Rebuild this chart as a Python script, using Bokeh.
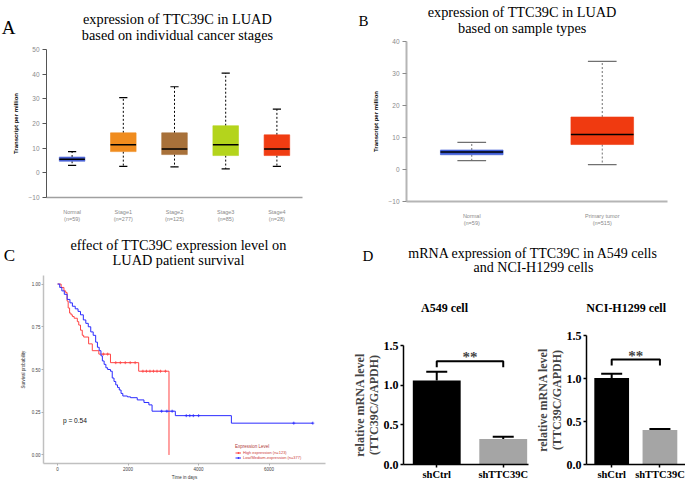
import numpy as np
from bokeh.plotting import figure
from bokeh.layouts import row, column
from bokeh.models import (Label, FixedTicker, Whisker, TeeHead, ColumnDataSource, Legend,
                          LegendItem, Range1d, NumeralTickFormatter)
from bokeh.transform import dodge
from bokeh.embed import file_html
from bokeh.resources import INLINE
from bokeh.core.validation import silence
from bokeh.core.validation.warnings import MISSING_RENDERERS

silence(MISSING_RENDERERS, True)

SERIF = "Liberation Serif"
SANS = "Liberation Sans"

# ---------------- data ----------------
# Panel A: expression by cancer stage (boxplot stats, TPM)
stage_cats = ["Normal", "Stage1", "Stage2", "Stage3", "Stage4"]
stage_n = [59, 277, 125, 85, 28]
stage_min = [3.0, 2.6, 2.4, 1.6, 2.6]
stage_q1 = [4.7, 8.6, 7.4, 7.0, 7.0]
stage_med = [5.5, 11.4, 9.7, 11.4, 9.7]
stage_q3 = [6.4, 16.2, 16.2, 19.1, 15.4]
stage_max = [8.6, 30.5, 34.9, 40.4, 25.8]
stage_colors = ["#4a62d4", "#f08c1e", "#a8713a", "#b4d41c", "#f03c12"]
stageA_ticks = [-10, 0, 10, 20, 30, 40, 50]

# Panel B: expression by sample type
type_cats = ["Normal", "Primary tumor"]
type_n = [59, 515]
type_min = [2.8, 1.5]
type_q1 = [4.6, 7.8]
type_med = [5.5, 10.9]
type_q3 = [6.1, 16.4]
type_max = [8.5, 33.8]
type_colors = ["#3f5dd6", "#f03a10"]
typeB_ticks = [-10, 0, 10, 20, 30, 40]

# Panel C: Kaplan-Meier survival (time in days, survival probability)
high_t = [0, 100, 180, 230, 270, 300, 340, 380, 420, 470, 560, 600, 650, 700, 740, 880, 984, 1170, 1500, 2300, 3160]
high_s = [1.0, 0.98, 0.96, 0.95, 0.90, 0.86, 0.83, 0.82, 0.81, 0.80, 0.78, 0.76, 0.73, 0.70, 0.69, 0.65, 0.61, 0.59, 0.54, 0.49, 0.0]
high_cens_t = [1300, 1420, 1650, 1780, 1920, 2060, 2200, 2420, 2520, 2620, 2720, 2820, 2920, 3060]
high_cens_s = [0.59, 0.59, 0.54, 0.54, 0.54, 0.54, 0.54, 0.49, 0.49, 0.49, 0.49, 0.49, 0.49, 0.49]
low_t = [0, 60, 120, 190, 270, 350, 420, 500, 580, 650, 730, 800, 870, 940, 1010, 1080, 1130, 1180, 1230,
         1270, 1320, 1370, 1420, 1500, 1550, 1600, 1650, 1700, 1750, 1800, 1850, 1980, 2070, 2260, 2450,
         2590, 2680, 3340, 4930, 7240]
low_s = [1.0, 0.98, 0.96, 0.94, 0.91, 0.89, 0.87, 0.855, 0.84, 0.82, 0.79, 0.77, 0.75, 0.72, 0.70, 0.66,
         0.63, 0.61, 0.58, 0.55, 0.53, 0.51, 0.50, 0.49, 0.45, 0.43, 0.41, 0.395, 0.38, 0.36, 0.345, 0.34,
         0.335, 0.322, 0.307, 0.293, 0.256, 0.23, 0.186, 0.186]
low_cens_t = [2950, 3100, 3250, 3650, 3750, 3850, 4000, 6700, 7240]
low_cens_s = [0.256, 0.256, 0.256, 0.23, 0.23, 0.23, 0.23, 0.186, 0.186]
surv_xticks = [0, 2000, 4000, 6000]
surv_yticks = [0.0, 0.25, 0.5, 0.75, 1.0]
p_value = "p = 0.54"

# Panel D: qPCR
d_groups = ["shCtrl", "shTTC39C"]
a549_mean = [1.06, 0.32]
a549_err = [0.11, 0.03]
a549_sig = [1.30, 1.225]
h1299_mean = [1.005, 0.40]
h1299_err = [0.05, 0.013]
h1299_sig = [1.22, 1.15]
bar_colors = ["#000000", "#a5a5a5"]
d_yticks = [0.0, 0.5, 1.0, 1.5]


def clabel(p, x, y, text, size, font=SERIF, style="normal", align="center",
           color="black", baseline="alphabetic"):
    p.add_layout(Label(x=x, y=y, x_units="canvas", y_units="canvas", text=text,
                       text_font=font, text_font_size=f"{size}px", text_font_style=style,
                       text_align=align, text_baseline=baseline, text_color=color))


def header(w, h):
    p = figure(width=w, height=h, x_range=Range1d(0, 1), y_range=Range1d(0, 1),
               x_axis_type=None, y_axis_type=None, output_backend="svg", toolbar_location=None,
               min_border_left=0, min_border_right=0, min_border_top=0, min_border_bottom=0)
    p.outline_line_color = None
    return p


def base_fig(w, h, xr, yr, left, right, top, bottom):
    p = figure(width=w, height=h, x_range=xr, y_range=yr, output_backend="svg",
               toolbar_location=None, min_border_left=left, min_border_right=right,
               min_border_top=top, min_border_bottom=bottom)
    p.outline_line_color = None
    p.grid.visible = False
    p.xaxis.minor_tick_line_color = None
    p.yaxis.minor_tick_line_color = None
    return p


def boxplot(p, cats, ns, mn, q1, med, q3, mx, colors, box_w, cap_w, wcolor, ticks):
    xs = list(range(len(cats)))
    src = ColumnDataSource(dict(x=xs, mn=mn, q1=q1, med=med, q3=q3, mx=mx, color=colors))
    p.segment(x0="x", y0="q3", x1="x", y1="mx", source=src, line_color=wcolor, line_dash="2 2", line_width=1)
    p.segment(x0="x", y0="q1", x1="x", y1="mn", source=src, line_color=wcolor, line_dash="2 2", line_width=1)
    p.segment(x0=dodge("x", -cap_w / 2), y0="mx", x1=dodge("x", cap_w / 2), y1="mx", source=src,
              line_color=wcolor, line_width=1.2)
    p.segment(x0=dodge("x", -cap_w / 2), y0="mn", x1=dodge("x", cap_w / 2), y1="mn", source=src,
              line_color=wcolor, line_width=1.2)
    p.vbar(x="x", width=box_w, bottom="q1", top="q3", source=src, fill_color="color",
           line_color="color", line_width=1, line_alpha=0.6)
    p.segment(x0=dodge("x", -box_w / 2), y0="med", x1=dodge("x", box_w / 2), y1="med", source=src,
              line_color="black", line_width=1.5)
    p.xaxis.ticker = FixedTicker(ticks=xs)
    p.xaxis.major_label_overrides = {i: f"{c}\n(n={n})" for i, (c, n) in enumerate(zip(cats, ns))}
    p.yaxis.ticker = FixedTicker(ticks=ticks)
    p.xaxis.major_tick_line_color = None
    p.xaxis.major_label_text_font = SANS
    p.xaxis.major_label_text_font_size = "5.5px"
    p.xaxis.major_label_text_color = "#8a8a8a"
    p.xaxis.major_label_standoff = 5
    p.yaxis.major_label_text_font = SANS
    p.yaxis.major_label_text_font_size = "6.5px"
    p.yaxis.major_label_text_color = "#8a8a8a"
    p.yaxis.major_tick_out = 4
    p.yaxis.major_tick_in = 0
    p.yaxis.major_label_standoff = 3
    p.yaxis.axis_label = "Transcript per million"
    p.yaxis.axis_label_text_font = SANS
    p.yaxis.axis_label_text_font_style = "bold"
    p.yaxis.axis_label_text_font_size = "6px"
    p.yaxis.axis_label_text_color = "black"
    p.yaxis.axis_label_standoff = 6


# ---------------- Panel A ----------------
hA = header(340, 44)
clabel(hA, 8, 26.7, "A", 19)
clabel(hA, 177, 18, "expression of TTC39C in LUAD", 14.3)
clabel(hA, 177, 34, "based on individual cancer stages", 14.3)

pA = base_fig(340, 184, Range1d(-0.5, 4.5), Range1d(-10, 50), 46, 38, 5, 31)
boxplot(pA, stage_cats, stage_n, stage_min, stage_q1, stage_med, stage_q3, stage_max,
        stage_colors, 0.5, 0.16, "black", stageA_ticks)
pA.yaxis.axis_line_color = "#555555"
pA.yaxis.major_tick_line_color = "#555555"
pA.xaxis.axis_line_color = "#a0a0a0"
pA.xaxis.axis_line_width = 1.5

# ---------------- Panel B ----------------
hB = header(345, 36)
clabel(hB, 23, 20, "B", 15)
clabel(hB, 181.7, 11.5, "expression of TTC39C in LUAD", 14.3)
clabel(hB, 181.7, 27, "based on sample types", 14.3)

pB = base_fig(345, 192, Range1d(-0.5, 1.5), Range1d(-10, 40), 66, 18, 5, 26)
boxplot(pB, type_cats, type_n, type_min, type_q1, type_med, type_q3, type_max,
        type_colors, 0.48, 0.22, "#707070", typeB_ticks)
for ax in (pB.xaxis, pB.yaxis):
    ax.axis_line_color = "#b5b5b5"
    ax.axis_line_width = 2
pB.yaxis.major_tick_line_color = "#8a8a8a"

# ---------------- Panel C ----------------
hC = header(340, 44)
clabel(hC, 9, 27, "C", 17)
clabel(hC, 178, 16, "effect of TTC39C expression level on", 14.3)
clabel(hC, 178, 31, "LUAD patient survival", 14.3)

pC = base_fig(340, 210, Range1d(-400, 7600), Range1d(-0.05, 1.05), 43, 15, 3, 13)
RED = "#ff4545"
BLUE = "#2b2bff"
r_hl = pC.step(high_t, high_s, mode="after", line_color=RED, line_width=1)
r_hc = pC.scatter(high_cens_t, high_cens_s, marker="cross", size=3, line_color=RED, line_width=0.8)
r_ll = pC.step(low_t, low_s, mode="after", line_color=BLUE, line_width=1)
r_lc = pC.scatter(low_cens_t, low_cens_s, marker="cross", size=3, line_color=BLUE, line_width=0.8)
pC.xaxis.ticker = FixedTicker(ticks=surv_xticks)
pC.yaxis.ticker = FixedTicker(ticks=surv_yticks)
pC.yaxis.formatter = NumeralTickFormatter(format="0.00")
for ax in (pC.xaxis, pC.yaxis):
    ax.axis_line_color = "#c0c0c0"
    ax.axis_line_width = 1.5
    ax.major_tick_line_color = "#b0b0b0"
    ax.major_tick_out = 2
    ax.major_tick_in = 0
    ax.major_label_text_font = SANS
    ax.major_label_text_font_size = "4.5px"
    ax.major_label_text_color = "#444444"
    ax.major_label_standoff = 1
    ax.axis_label_text_font = SANS
    ax.axis_label_text_font_style = "normal"
    ax.axis_label_text_font_size = "4.5px"
    ax.axis_label_text_color = "#333333"
    ax.axis_label_standoff = 1
pC.xaxis.axis_label = "Time in days"
pC.yaxis.axis_label = "Survival probability"
pC.yaxis.axis_label_standoff = 3
pC.add_layout(Label(x=150, y=0.2, text=p_value, text_font=SANS, text_font_size="6.6px",
                    text_baseline="middle", text_color="#111111"))
legC = Legend(items=[LegendItem(label="High expression (n=123)", renderers=[r_hl, r_hc]),
                     LegendItem(label="Low/Medium-expression (n=377)", renderers=[r_ll, r_lc])],
              title="Expression Level", location=(192, 3), padding=0, margin=0, spacing=0,
              label_height=5, glyph_height=5, glyph_width=6, label_standoff=2,
              label_text_font=SANS, label_text_font_size="4px", label_text_color="#cc3a3a",
              title_text_font=SANS, title_text_font_size="4.5px", title_text_color="#b03a3a",
              title_text_font_style="normal", title_standoff=1,
              background_fill_alpha=0, border_line_alpha=0)
pC.add_layout(legC)

# ---------------- Panel D ----------------
hD = header(345, 90)
clabel(hD, 27.5, 27, "D", 15)
clabel(hD, 193, 25.3, "mRNA expression of TTC39C in A549 cells", 14)
clabel(hD, 193, 38.7, "and NCI-H1299 cells", 14)
clabel(hD, 104, 79.5, "A549 cell", 12, style="bold")
clabel(hD, 285.7, 79.5, "NCI-H1299 cell", 12, style="bold")


def barchart(w, means, errs, sig, xr, borders, cap):
    p = base_fig(w, 164, xr, Range1d(0, 1.5), *borders)
    xs = [1 + i for i in range(len(d_groups))]
    src = ColumnDataSource(dict(x=xs, top=means, upper=[m + e for m, e in zip(means, errs)],
                                color=bar_colors))
    p.vbar(x="x", top="top", width=0.72, source=src, fill_color="color", line_color=None)
    p.add_layout(Whisker(source=src, base="x", lower="top", upper="upper", line_width=2,
                         line_color="black", lower_head=None,
                         upper_head=TeeHead(size=cap, line_width=2, line_color="black")))
    p.line(x=[xs[0], xs[0], xs[1], xs[1]], y=[sig[1], sig[0], sig[0], sig[1]],
           line_color="black", line_width=2)
    p.add_layout(Label(x=(xs[0] + xs[1]) / 2, y=sig[0], y_offset=4, text="**", text_align="center",
                       text_baseline="alphabetic", text_font=SERIF, text_font_style="bold",
                       text_font_size="15px"))
    p.xaxis.ticker = FixedTicker(ticks=xs)
    p.xaxis.major_label_overrides = {x: g for x, g in zip(xs, d_groups)}
    p.yaxis.ticker = FixedTicker(ticks=d_yticks)
    p.yaxis.formatter = NumeralTickFormatter(format="0.0")
    for ax in (p.xaxis, p.yaxis):
        ax.axis_line_color = "black"
        ax.axis_line_width = 1.5
        ax.major_tick_line_color = "black"
        ax.major_tick_line_width = 1.5
        ax.major_tick_in = 0
        ax.major_label_text_font = SERIF
        ax.major_label_text_font_style = "bold"
        ax.major_label_text_color = "black"
    p.xaxis.major_label_text_font_size = "10.5px"
    p.yaxis.major_label_text_font_size = "12px"
    p.xaxis.major_tick_out = 3
    p.xaxis.major_label_standoff = 1
    p.yaxis.major_tick_out = 3
    p.yaxis.major_label_standoff = 2
    p.yaxis.axis_label = "relative mRNA level\n(TTC39C/GAPDH)"
    p.yaxis.axis_label_text_font = SERIF
    p.yaxis.axis_label_text_font_style = "bold"
    p.yaxis.axis_label_text_font_size = "12px"
    p.yaxis.axis_label_text_line_height = 1.0
    p.yaxis.axis_label_standoff = 0
    return p


pD1 = barchart(192, a549_mean, a549_err, a549_sig, Range1d(0.5, 2.38), (63, 4, 27, 15), 21)
pD2 = barchart(153, h1299_mean, h1299_err, h1299_sig, Range1d(0.478, 2.53), (47, 0, 17, 18), 21)


def solo(fig):
    # wrap each figure on its own so that row/column do not align the frames
    return column(fig)


left = column(solo(hA), solo(pA), solo(hC), solo(pC))
right = column(solo(hB), solo(pB), solo(hD), row(solo(pD1), solo(pD2)))
layout = row(left, right)

open("out.html", "w").write(file_html(layout, INLINE))
